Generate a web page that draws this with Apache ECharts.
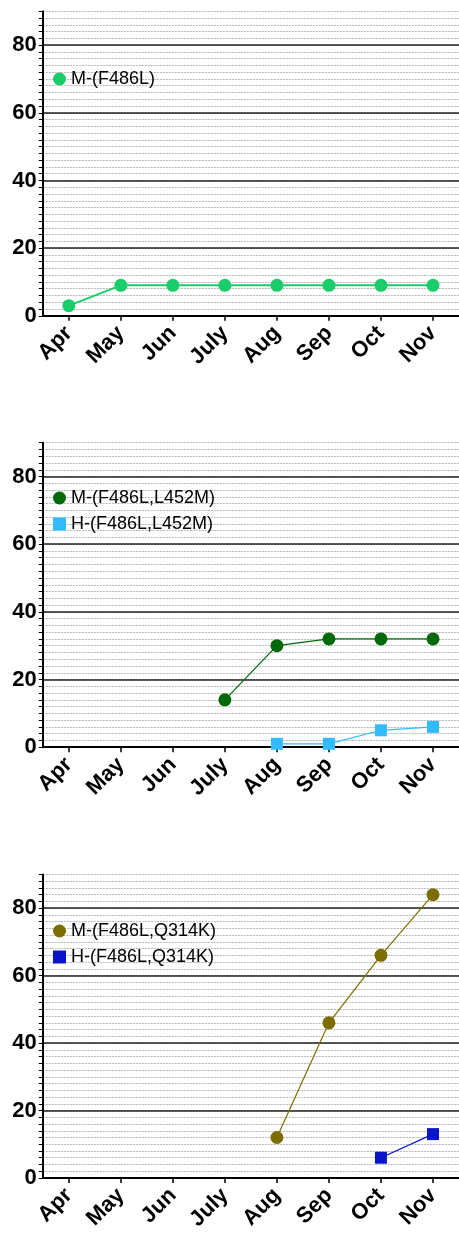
<!DOCTYPE html>
<html><head><meta charset="utf-8">
<script src="https://cdn.jsdelivr.net/npm/echarts@6/dist/echarts.min.js"></script>
<style>html,body{margin:0;padding:0;background:#fff}#c{width:459px;height:1233px}</style>
</head><body><div id="c"></div>
<script>
var months = ['Apr','May','Jun','July','Aug','Sep','Oct','Nov'];
var yTicksMajor = [0,20,40,60,80];
var names1 = ['M-(F486L)'];
var m1 = [3,9,9,9,9,9,9,9];
var names2 = ['M-(F486L,L452M)','H-(F486L,L452M)'];
var m2 = [null,null,null,14,30,32,32,32];
var h2 = [null,null,null,null,1,1,5,6];
var names3 = ['M-(F486L,Q314K)','H-(F486L,Q314K)'];
var m3 = [null,null,null,null,12,46,66,84];
var h3 = [null,null,null,null,null,null,6,13];

var FONT = "'Liberation Sans', Arial, sans-serif";
var tops = [11.3, 442.7, 874.4];
var H = 304.5;
var grids = [], xAxes = [], yAxes = [];
tops.forEach(function(t, i){
  grids.push({left: 42.8, top: t, width: 418.7, height: H, containLabel: false});
  xAxes.push({type:'category', gridIndex:i, data: months, boundaryGap:true,
    axisLine:{show:true, lineStyle:{color:'#000', width:2}},
    axisTick:{show:true, alignWithLabel:true, length:5, lineStyle:{color:'#000', width:1.5}},
    axisLabel:{rotate:45, margin:14, color:'#000', fontSize:22, fontWeight:'bold', fontFamily:FONT},
    splitLine:{show:false}});
  // minor axis
  yAxes.push({type:'value', gridIndex:i, min:0, max:90, interval:2,
    axisLine:{show:true, lineStyle:{color:'#000', width:2}},
    axisTick:{show:true, length:4, lineStyle:{color:'#000', width:1}},
    axisLabel:{show:true, margin:6, color:'#000', fontSize:22, fontWeight:'bold', fontFamily:FONT,
      formatter:function(v){ return yTicksMajor.indexOf(v) >= 0 ? String(v) : ''; }},
    splitLine:{show:true, lineStyle:{color:'#b8b8b8', width:1, type:[2,1]}}});
  // major axis
  yAxes.push({type:'value', gridIndex:i, min:0, max:90, interval:20,
    axisLine:{show:false},
    axisTick:{show:true, length:5, customValues: yTicksMajor, lineStyle:{color:'#000', width:1.5}},
    axisLabel:{show:false, customValues: yTicksMajor},
    splitLine:{show:true, lineStyle:{color:'#222', width:1.5}}});
});

function ser(name, data, gi, color, symbol, size, lw){
  return {type:'line', name:name, data:data, xAxisIndex:gi, yAxisIndex:gi*2,
    symbol:symbol, symbolSize:size, showSymbol:true, animation:false,
    itemStyle:{color:color, opacity:1}, lineStyle:{color:color, width:lw},
    emphasis:{disabled:true}};
}
var C1='#1bcc6b', C2M='#006a08', C2H='#33bbff', C3M='#7d6d00', C3H='#0a14c8';
var series = [
  ser(names1[0], m1, 0, C1, 'circle', 13, 2),
  ser(names2[0], m2, 1, C2M, 'circle', 13, 1.2),
  ser(names2[1], h2, 1, C2H, 'rect', 12, 1.2),
  ser(names3[0], m3, 2, C3M, 'circle', 13, 1.2),
  ser(names3[1], h3, 2, C3H, 'rect', 12, 1.2)
];
function legend(names, icons, top){
  return {orient:'vertical', left:53, top:top, padding:0, itemWidth:13, itemHeight:13, itemGap:6,
    selectedMode:false,
    textStyle:{color:'#000', fontSize:18, fontFamily:FONT, lineHeight:20},
    data: names.map(function(n, k){ return {name:n, icon:icons[k]}; })};
}
var chart = echarts.init(document.getElementById('c'), null, {renderer:'canvas'});
chart.setOption({
  animation:false,
  backgroundColor:'#fff',
  grid: grids, xAxis: xAxes, yAxis: yAxes, series: series,
  legend: [
    legend(names1, ['circle'], 69),
    legend(names2, ['circle','rect'], 488),
    legend(names3, ['circle','rect'], 921)
  ]
});
</script></body></html>
